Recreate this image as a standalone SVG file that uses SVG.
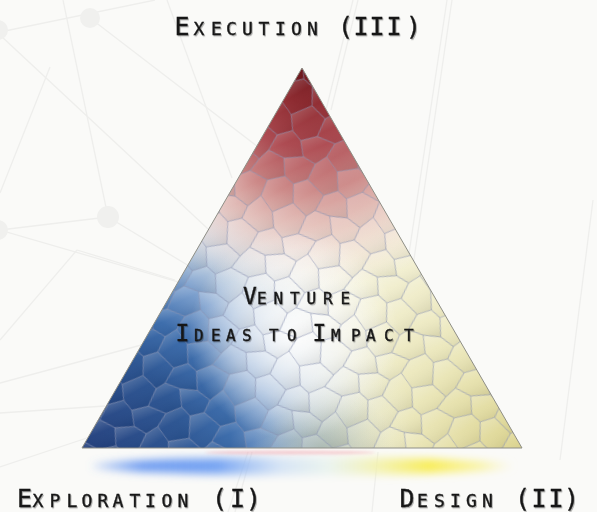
<svg xmlns="http://www.w3.org/2000/svg" width="597" height="512" viewBox="0 0 597 512">
<style>
.net line{stroke:#eeeeec;stroke-width:1.3;fill:none}
.net circle{fill:#f0f0ee}
#hx polygon{fill:url(#cellg);stroke:#8790b2;stroke-opacity:0.42;stroke-width:0.75;stroke-linejoin:round}
.lbl{font-family:"DejaVu Sans Mono","Liberation Mono",monospace;font-variant:small-caps;fill:#161616;stroke:#161616;stroke-width:0.35;filter:url(#ts)}
</style>
<defs>
<linearGradient id="cellg" x1="0" y1="0" x2="0.8" y2="1">
<stop offset="0" stop-color="#fff" stop-opacity="0.3"/>
<stop offset="0.5" stop-color="#fff" stop-opacity="0.04"/>
<stop offset="1" stop-color="#000" stop-opacity="0.09"/>
</linearGradient>
<g id="hx">
<polygon points="15,-1 29,8.5 25,25.5 11,32 2,24.5 -2,10.5"/>
<polygon points="36,2 50,4.5 55,20.5 42,29 25,25.5 29,8.5"/>
<polygon points="66,3 79,9.5 76,21.5 64,27 55,20.5 50,4.5"/>
<polygon points="89,-2 102,10.5 106,24.5 93,31 76,21.5 79,9.5"/>
<polygon points="25,25.5 42,29 37,42 28,50.5 16,46 11,32"/>
<polygon points="55,20.5 64,27 67,47 49,53.5 37,42 42,29"/>
<polygon points="76,21.5 93,31 88,46 81,55.5 67,47 64,27"/>
<polygon points="106,24.5 115,32 120,46 103,50.5 88,46 93,31"/>
<polygon points="16,46 28,50.5 24,65.5 12,72 3,66.5 -1,50.5"/>
<polygon points="37,42 49,53.5 53,70.5 41,77 24,65.5 28,50.5"/>
<polygon points="67,47 81,55.5 75,67.5 62,76 53,70.5 49,53.5"/>
<polygon points="88,46 103,50.5 107,66.5 92,73 75,67.5 81,55.5"/>
<polygon points="24,65.5 41,77 36,92 29,98.5 15,89 12,72"/>
<polygon points="53,70.5 62,76 66,93 50,94.5 36,92 41,77"/>
<polygon points="75,67.5 92,73 89,88 79,99.5 66,93 62,76"/>
<polygon points="107,66.5 116,72 119,89 102,100.5 89,88 92,73"/>
</g>
<pattern id="hex" width="104" height="90" patternUnits="userSpaceOnUse" patternTransform="translate(71,60) rotate(11) scale(1.1)">
<use href="#hx"/>
<use href="#hx" x="-104"/>
<use href="#hx" x="104"/>
<use href="#hx" y="-90"/>
<use href="#hx" y="90"/>
<use href="#hx" x="-104" y="-90"/>
<use href="#hx" x="104" y="-90"/>
<use href="#hx" x="-104" y="90"/>
<use href="#hx" x="104" y="90"/>
</pattern>
<clipPath id="tri"><polygon points="302,68 82,448 522,448"/></clipPath>
<radialGradient id="yel" cx="522" cy="448" r="300" gradientUnits="userSpaceOnUse">
<stop offset="0" stop-color="#dcd48e"/>
<stop offset="0.4" stop-color="#ebe7ba"/>
<stop offset="1" stop-color="#f7f5e2"/>
</radialGradient>
<radialGradient id="blu" cx="82" cy="448" r="330" gradientUnits="userSpaceOnUse">
<stop offset="0" stop-color="#1e3b7a"/>
<stop offset="0.3" stop-color="#26508f"/>
<stop offset="0.45" stop-color="#3668a9"/>
<stop offset="0.58" stop-color="#6a93ca" stop-opacity="0.9"/>
<stop offset="0.72" stop-color="#a9c0e0" stop-opacity="0.6"/>
<stop offset="0.87" stop-color="#d0dcee" stop-opacity="0.2"/>
<stop offset="1" stop-color="#e8eef6" stop-opacity="0"/>
</radialGradient>
<radialGradient id="grn" cx="322" cy="452" r="70" gradientUnits="userSpaceOnUse">
<stop offset="0" stop-color="#8a9c8c" stop-opacity="0.55"/>
<stop offset="0.6" stop-color="#a8b4a0" stop-opacity="0.25"/>
<stop offset="1" stop-color="#c0c8b0" stop-opacity="0"/>
</radialGradient>
<radialGradient id="red" cx="302" cy="68" r="225" gradientUnits="userSpaceOnUse">
<stop offset="0" stop-color="#6a1016"/>
<stop offset="0.15" stop-color="#8a2329"/>
<stop offset="0.35" stop-color="#ab454c"/>
<stop offset="0.55" stop-color="#c87d7d" stop-opacity="0.92"/>
<stop offset="0.7" stop-color="#ddaaa8" stop-opacity="0.7"/>
<stop offset="0.85" stop-color="#efd3d3" stop-opacity="0.4"/>
<stop offset="1" stop-color="#f5e6e6" stop-opacity="0"/>
</radialGradient>
<radialGradient id="wht" cx="294" cy="335" r="105" gradientUnits="userSpaceOnUse">
<stop offset="0" stop-color="#fff" stop-opacity="0.95"/>
<stop offset="0.6" stop-color="#fff" stop-opacity="0.5"/>
<stop offset="1" stop-color="#fff" stop-opacity="0"/>
</radialGradient>
<linearGradient id="glowg" x1="90" y1="0" x2="515" y2="0" gradientUnits="userSpaceOnUse">
<stop offset="0" stop-color="#5d90f0" stop-opacity="0.25"/>
<stop offset="0.12" stop-color="#5d90f0" stop-opacity="0.9"/>
<stop offset="0.3" stop-color="#6f9ff2" stop-opacity="0.95"/>
<stop offset="0.45" stop-color="#c8dcf4" stop-opacity="0.7"/>
<stop offset="0.56" stop-color="#e2f0ea" stop-opacity="0.65"/>
<stop offset="0.68" stop-color="#f2f0a0" stop-opacity="0.8"/>
<stop offset="0.8" stop-color="#f8ec4c" stop-opacity="0.95"/>
<stop offset="0.92" stop-color="#f8f080" stop-opacity="0.7"/>
<stop offset="1" stop-color="#f8f0a0" stop-opacity="0.1"/>
</linearGradient>
<filter id="blur4" x="-20%" y="-200%" width="140%" height="500%"><feGaussianBlur stdDeviation="4.5"/></filter>
<filter id="blur2" x="-20%" y="-300%" width="140%" height="700%"><feGaussianBlur stdDeviation="1.5"/></filter>
<filter id="ts" x="-5%" y="-30%" width="110%" height="160%"><feDropShadow dx="1" dy="1.2" stdDeviation="0.7" flood-color="#000" flood-opacity="0.3"/></filter>
</defs>
<rect width="597" height="512" fill="#fafaf8"/>
<g class="net" id="background-network">
<line x1="0" y1="32" x2="155" y2="0"/>
<line x1="0" y1="35" x2="222" y2="242"/>
<line x1="63" y1="0" x2="108" y2="217"/>
<line x1="90" y1="18" x2="262" y2="150"/>
<line x1="167" y1="0" x2="232" y2="178"/>
<line x1="0" y1="230" x2="108" y2="217"/>
<line x1="0" y1="230" x2="240" y2="300"/>
<line x1="108" y1="217" x2="232" y2="292"/>
<line x1="50" y1="67" x2="0" y2="193"/>
<line x1="0" y1="340" x2="77" y2="250"/>
<line x1="77" y1="250" x2="175" y2="280"/>
<line x1="0" y1="383" x2="160" y2="340"/>
<line x1="0" y1="413" x2="105" y2="406"/>
<line x1="0" y1="467" x2="150" y2="417"/>
<line x1="228" y1="512" x2="248" y2="452"/>
<line x1="235" y1="512" x2="252" y2="452"/>
<line x1="372" y1="512" x2="378" y2="452"/>
<line x1="447" y1="0" x2="402" y2="300"/>
<line x1="452" y1="0" x2="408" y2="300"/>
<line x1="353" y1="0" x2="326" y2="110"/>
<line x1="358" y1="0" x2="331" y2="110"/>
<line x1="593" y1="200" x2="560" y2="460"/>
<circle cx="-2" cy="30" r="10"/>
<circle cx="90" cy="18" r="10"/>
<circle cx="108" cy="217" r="11"/>
<circle cx="-2" cy="230" r="10"/>
</g>
<g id="glow">
<ellipse cx="302" cy="466" rx="210" ry="9" fill="url(#glowg)" filter="url(#blur4)"/>
<ellipse cx="290" cy="452.5" rx="85" ry="2" fill="#f3b0b8" opacity="0.6" filter="url(#blur2)"/>
</g>
<g id="triangle">
<g clip-path="url(#tri)">
<rect x="70" y="55" width="470" height="410" fill="url(#yel)"/>
<rect x="70" y="55" width="470" height="410" fill="url(#blu)"/>
<rect x="70" y="55" width="470" height="410" fill="url(#grn)"/>
<rect x="70" y="55" width="470" height="410" fill="url(#red)"/>
<rect x="70" y="55" width="470" height="410" fill="url(#wht)"/>
<rect x="70" y="55" width="470" height="410" fill="url(#hex)"/>
</g>
<polygon points="302,68 82,448 522,448" fill="none" stroke="#8e8e86" stroke-width="1"/>
</g>
<g id="label-execution">
<text class="lbl" font-size="25" y="35" x="174.5 193.5 211 226 242 258.5 275 291 307 323 338 353.5 369.5 386.5 406">Execution (III)</text>
</g>
<g id="label-venture">
<text class="lbl" font-size="23" y="304" x="243 257 273.5 290 306.5 323 340.5">Venture</text>
<text class="lbl" font-size="23" y="341" x="175.5 194 211 226 242 258 269 287 303 312.5 331 351 366 384 404">Ideas to Impact</text>
</g>
<g id="label-exploration">
<text class="lbl" font-size="25" y="507" x="17 32.5 49.5 66.5 81.5 97.5 112.5 129.5 145 161.5 177.5 193 212 230 246">Exploration (I)</text>
</g>
<g id="label-design">
<text class="lbl" font-size="25" y="507" x="399.5 417 434 450 466 482 500 515 531.5 548.5 564">Design (II)</text>
</g>
</svg>
